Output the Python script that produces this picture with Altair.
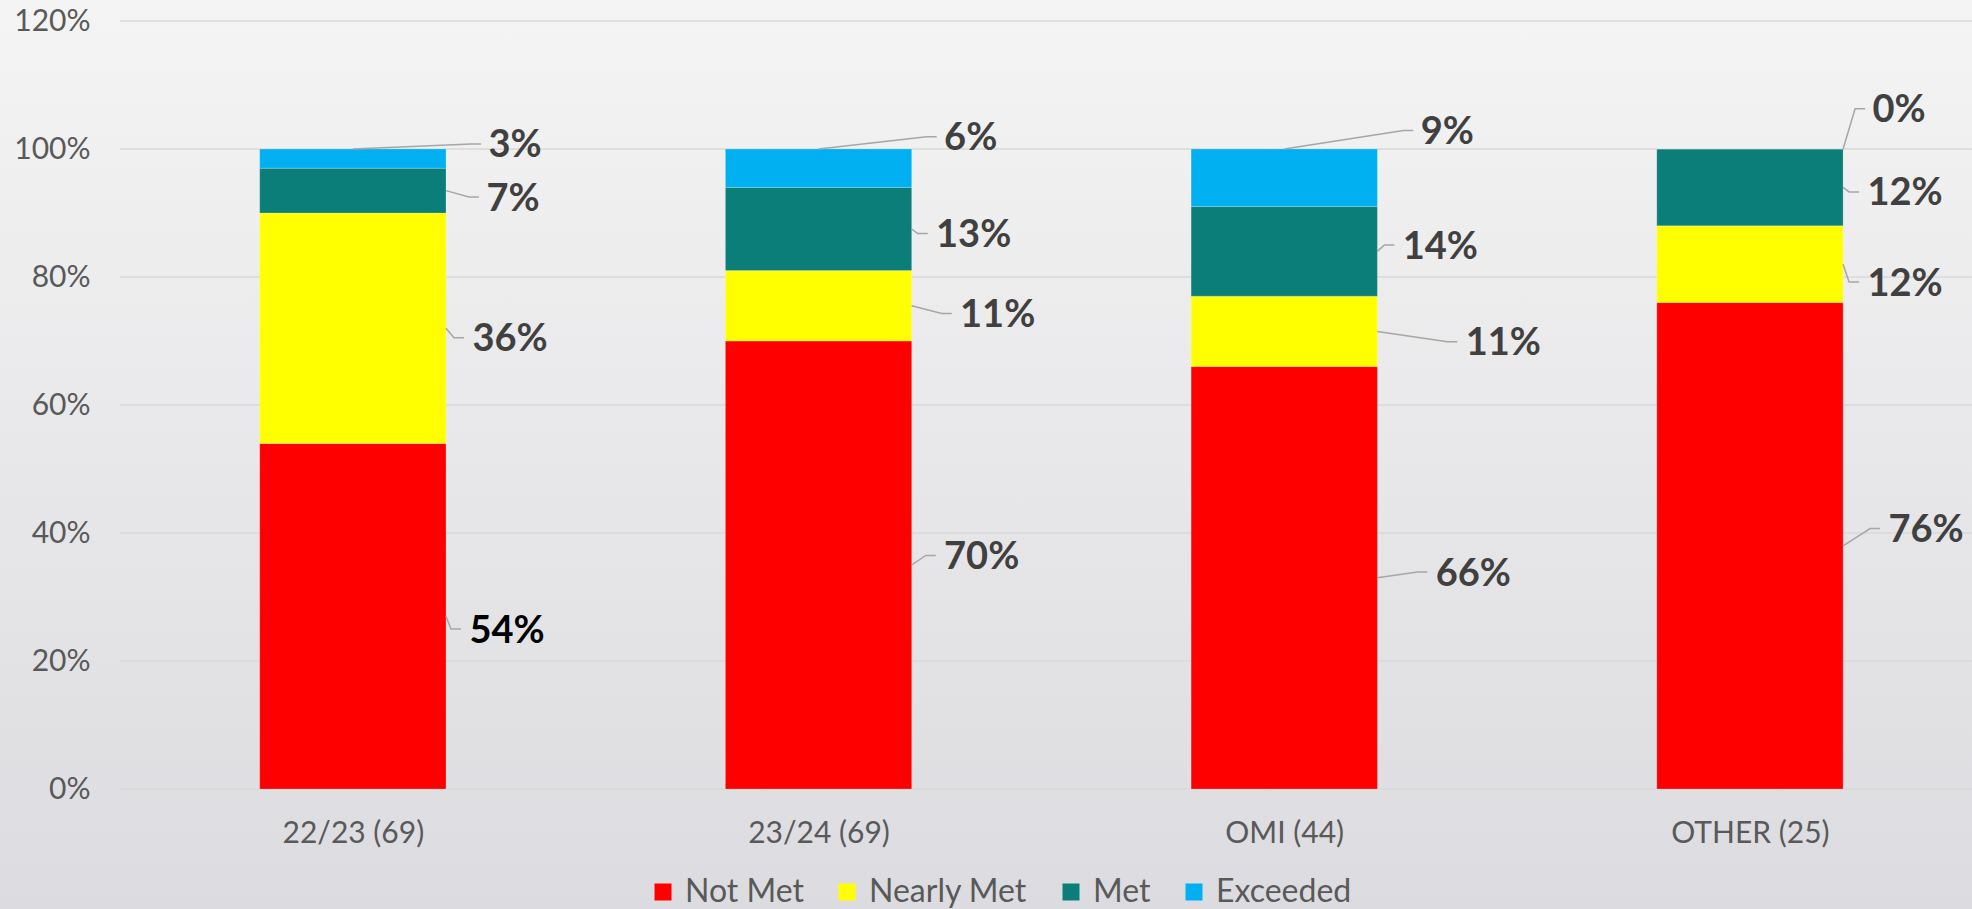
import json
import altair as alt
import pandas as pd

# ---------------- data ----------------
categories = ["22/23 (69)", "23/24 (69)", "OMI (44)", "OTHER (25)"]
statuses = ["Not Met", "Nearly Met", "Met", "Exceeded"]
not_met = [54, 70, 66, 76]
nearly_met = [36, 11, 11, 12]
met = [7, 13, 14, 12]
exceeded = [3, 6, 9, 0]
status_colors = ["#ff0000", "#ffff00", "#0b7e7a", "#00b0f0"]
y_ticks = [0, 20, 40, 60, 80, 100, 120]

# data-label placement as in the original (label centre height in % units,
# and distance of the label centre from the bar's right edge in pixels)
label_y = {
    "Not Met": [24.6, 36.1, 33.5, 40.3],
    "Nearly Met": [70.1, 73.9, 69.5, 78.8],
    "Met": [92.1, 86.4, 84.6, 92.9],
    "Exceeded": [100.4, 101.5, 102.5, 105.9],
}
label_dx = {
    "Not Met": [61, 70, 96, 83],
    "Nearly Met": [64, 86, 126, 62],
    "Met": [67, 62, 63, 62],
    "Exceeded": [69, 59, 70, 56],
}

# ---------------- layout ----------------
PAD_L, PAD_T, PAD_R = 120, 21, 0
PLOT_W, PLOT_H = 1852, 768
PAD_B = 909 - PAD_T - PLOT_H
STEP = 465.7                      # pixels per category
X_MIN = -0.5
X_MAX = X_MIN + PLOT_W / STEP
BAR_HALF = 0.2
FONT = "Lato"

values = {"Not Met": not_met, "Nearly Met": nearly_met, "Met": met, "Exceeded": exceeded}

seg_rows, lab_rows, line_rows = [], [], []
for i, cat in enumerate(categories):
    base = 0
    for s in statuses:
        v = values[s][i]
        seg_rows.append({"cat": cat, "status": s, "x0": i - BAR_HALF, "x1": i + BAR_HALF,
                         "y0": base, "y1": base + v})
        mid = base + v / 2
        top = base + v
        base += v
        txt = f"{v}%"
        lx = i + BAR_HALF + label_dx[s][i] / STEP
        ly = label_y[s][i]
        lab_rows.append({"cat": cat, "status": s, "tx": lx, "ty": ly, "txt": txt,
                         "dark": 1 if (i == 0 and s == "Not Met") else 0})
        # leader line
        if s == "Exceeded" and v > 0:
            ax, ay = i, top
        elif s == "Exceeded":
            ax, ay = i + BAR_HALF, top
        else:
            ax, ay = i + BAR_HALF, mid
        end_x = lx - (10 + 12 * len(txt)) / STEP
        elbow_x = end_x - 10 / STEP
        yy = ly + 0.4
        lid = f"{i}-{s}"
        for k, (px, py) in enumerate([(ax, ay), (elbow_x, yy), (end_x, yy)]):
            line_rows.append({"lid": lid, "k": k, "lx": px, "ly": py})

seg_df = pd.DataFrame(seg_rows)
lab_df = pd.DataFrame(lab_rows)
line_df = pd.DataFrame(line_rows)
tick_df = pd.DataFrame({"t": y_ticks})

x_scale = alt.Scale(domain=[X_MIN, X_MAX], nice=False, zero=False)
y_scale = alt.Scale(domain=[0, 120], nice=False, zero=True)

cat_expr = json.dumps(categories) + "[datum.value]"

X_AXIS = alt.Axis(values=[0, 1, 2, 3], labelExpr=cat_expr, grid=False, ticks=False,
                  domain=False, labelFontSize=30, labelColor="#595959",
                  labelFont=FONT, labelPadding=29, zindex=1, title=None)
Y_AXIS = alt.Axis(values=y_ticks, labelExpr="datum.value + '%'", grid=False,
                  domain=False, ticks=False, labelFontSize=30, labelColor="#595959",
                  labelFont=FONT, labelPadding=30, zindex=1, title=None)

bg = alt.Chart(pd.DataFrame({"a": [0]})).mark_rect(
    color=alt.LinearGradient(
        gradient="linear",
        stops=[alt.GradientStop(color="#f4f4f4", offset=0),
               alt.GradientStop(color="#dcdce0", offset=1)],
        x1=0, x2=0, y1=0, y2=1,
    )
).encode(
    x=alt.value(-PAD_L), x2=alt.value(PLOT_W + PAD_R),
    y=alt.value(-PAD_T), y2=alt.value(PLOT_H + PAD_B),
)

grid = alt.Chart(tick_df).mark_rule(color="#d9d9d9", strokeWidth=1.5).encode(
    y=alt.Y("t:Q", scale=y_scale, axis=Y_AXIS, title=None),
    x=alt.value(0), x2=alt.value(PLOT_W),
)

bars = alt.Chart(seg_df).mark_bar(stroke="#ffffff", strokeWidth=0.5, strokeOpacity=0.4).encode(
    x=alt.X("x0:Q", scale=x_scale, axis=X_AXIS, title=None),
    x2="x1:Q",
    y=alt.Y("y0:Q", scale=y_scale, axis=Y_AXIS, title=None),
    y2="y1:Q",
    color=alt.Color("status:N", scale=alt.Scale(domain=statuses, range=status_colors),
                    legend=alt.Legend(orient="none", legendX=527, legendY=855,
                                      direction="horizontal", title=None,
                                      symbolType="square", symbolSize=289,
                                      symbolStrokeWidth=0, labelFontSize=32,
                                      labelColor="#595959", labelFont=FONT,
                                      labelLimit=0, labelOffset=6,
                                      columnPadding=27, zindex=1)),
)

lines = alt.Chart(line_df).mark_line(color="#a6a6a6", strokeWidth=1.5).encode(
    x=alt.X("lx:Q", scale=x_scale, axis=X_AXIS, title=None),
    y=alt.Y("ly:Q", scale=y_scale, axis=Y_AXIS, title=None),
    detail="lid:N",
    order="k:Q",
)

texts = alt.Chart(lab_df).mark_text(
    font=FONT, fontSize=38, fontWeight="bold", align="center", baseline="middle"
).encode(
    x=alt.X("tx:Q", scale=x_scale, axis=X_AXIS, title=None),
    y=alt.Y("ty:Q", scale=y_scale, axis=Y_AXIS, title=None),
    text="txt:N",
    color=alt.condition("datum.dark == 1", alt.value("#000000"), alt.value("#404040")),
)

chart = alt.layer(bg, grid, bars, lines, texts).properties(
    width=PLOT_W, height=PLOT_H,
    autosize=alt.AutoSizeParams(type="none"),
    padding={"left": PAD_L, "top": PAD_T, "right": PAD_R, "bottom": PAD_B},
    background="#e9e9eb",
).configure_view(stroke=None)

chart.save("out.html", embed_options={"renderer": "svg", "actions": False})
